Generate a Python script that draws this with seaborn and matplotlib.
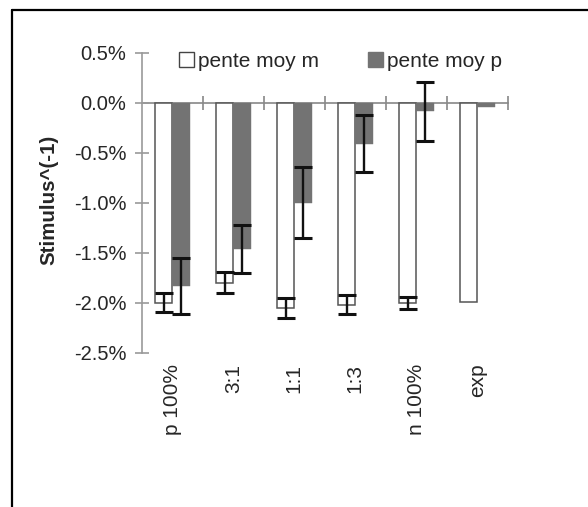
import matplotlib
matplotlib.use("Agg")
import matplotlib.pyplot as plt
import seaborn as sns
import pandas as pd
import numpy as np
from matplotlib.lines import Line2D
from matplotlib.patches import Patch
from matplotlib.ticker import FuncFormatter

categories = ["p 100%", "3:1", "1:1", "1:3", "n 100%", "exp"]
series = ["pente moy m", "pente moy p"]
mean_m = [-2.00, -1.80, -2.05, -2.02, -2.00, -1.99]
mean_p = [-1.83, -1.46, -1.00, -0.41, -0.085, -0.04]
err_m = [0.095, 0.103, 0.10, 0.097, 0.058, 0.0]
err_p = [0.28, 0.24, 0.353, 0.287, 0.295, 0.0]
yticks = [0.5, 0.0, -0.5, -1.0, -1.5, -2.0, -2.5]

df = pd.DataFrame({
    "cat": categories * 2,
    "serie": [series[0]] * 6 + [series[1]] * 6,
    "val": mean_m + mean_p,
})

sns.set_theme(style="white")
plt.rcParams["font.family"] = ["Liberation Sans", "DejaVu Sans"]

GRAY = "#737373"

fig = plt.figure(figsize=(5.88, 5.07), dpi=100)
ax = fig.add_axes([141.7 / 588, 1 - 352.7 / 507, (508 - 141.7) / 588, 300 / 507])

sns.barplot(data=df, x="cat", y="val", hue="serie", order=categories,
            hue_order=series, palette=["white", GRAY], width=0.57,
            errorbar=None, legend=False, ax=ax, saturation=1)

bar_conts = list(ax.containers)[:2]

# style bars
for i, cont in enumerate(bar_conts):
    for bar in cont:
        if i == 0:
            bar.set_edgecolor("#555555")
            bar.set_linewidth(1.1)
        else:
            bar.set_edgecolor(GRAY)
            bar.set_linewidth(0.3)

# error bars
errs = [err_m, err_p]
means = [mean_m, mean_p]
for i, cont in enumerate(bar_conts):
    xs = [b.get_x() + b.get_width() / 2 for b in cont.patches]
    for x, m, e in zip(xs, means[i], errs[i]):
        if e > 0:
            ax.errorbar([x], [m], yerr=[e], fmt="none", ecolor="#111111",
                        elinewidth=1.7, capsize=6.5, capthick=2.2, zorder=5)

ax.set_xlim(-0.5, 5.5)
ax.set_ylim(-2.5, 0.5)
ax.set_yticks(yticks)
ax.yaxis.set_major_formatter(FuncFormatter(lambda v, p: f"{v:.1f}%"))
ax.tick_params(axis="y", direction="inout", length=10, width=1.2,
               color="#999999", labelsize=14.5, pad=6, left=True)

for s in ["top", "right"]:
    ax.spines[s].set_visible(False)
ax.spines["left"].set_color("#999999")
ax.spines["left"].set_linewidth(1.2)
ax.spines["bottom"].set_position(("data", 0))
ax.spines["bottom"].set_color("#888888")
ax.spines["bottom"].set_linewidth(1.2)
ax.spines["bottom"].set_zorder(0.5)
ax.set_xticks(np.arange(0.5, 6.0, 1.0))
ax.set_xticklabels([])
ax.tick_params(axis="x", direction="inout", length=10, width=1.2,
               color="#888888", bottom=True)
ax.set_xlabel("")

sec = ax.secondary_xaxis("bottom")
sec.set_xticks(range(len(categories)))
sec.set_xticklabels(categories, rotation=90, fontsize=15)
sec.tick_params(length=0, pad=8)
sec.spines["bottom"].set_visible(False)

ax.set_ylabel("Stimulus^(-1)", fontsize=14.8, fontweight="bold")
ax.yaxis.set_label_coords(-0.2285, 0.509)

handles = [Patch(facecolor="white", edgecolor="#444444", linewidth=1.0),
           Patch(facecolor=GRAY, edgecolor=GRAY)]
leg = ax.legend(handles, series, loc="upper left", bbox_to_anchor=(0.08, 1.03),
                ncol=2, frameon=False, fontsize=15, handlelength=0.7,
                handleheight=0.7, handletextpad=0.2, columnspacing=2.35,
                borderaxespad=0)

# outer frame
fig.add_artist(Line2D([12 / 588, 1.0], [1 - 10 / 507, 1 - 10 / 507],
                      color="black", linewidth=1.6, transform=fig.transFigure))
fig.add_artist(Line2D([12 / 588, 12 / 588], [0.0, 1 - 10 / 507],
                      color="black", linewidth=1.6, transform=fig.transFigure))

fig.savefig("out.png", dpi=100)
